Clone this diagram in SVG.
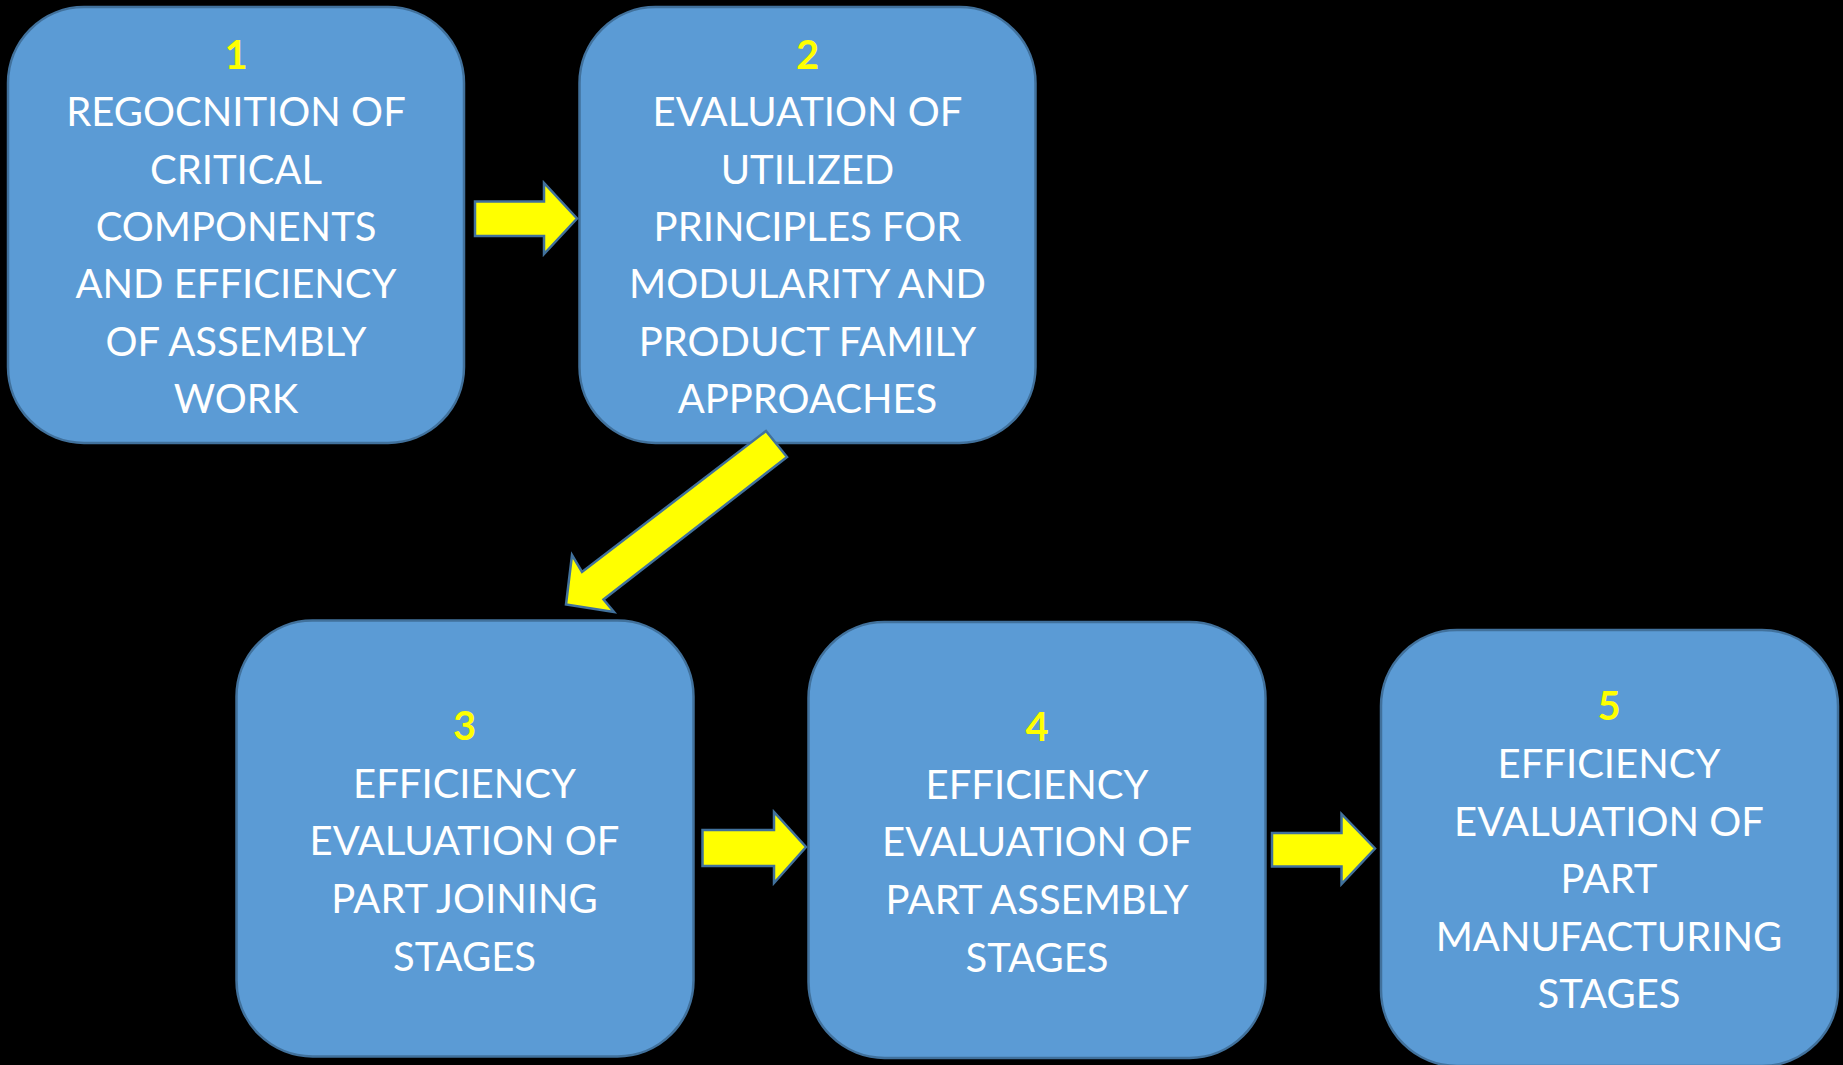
<svg xmlns="http://www.w3.org/2000/svg" width="1843" height="1065" viewBox="0 0 1843 1065">
<style>
.box{fill:#5B9BD5;stroke:#41719C;stroke-width:2.5}
.t{font-family:Lato,"Liberation Sans",sans-serif;font-size:40px;fill:#FFFFFF;text-anchor:middle}
.n{font-family:Lato,"Liberation Sans",sans-serif;font-size:40px;font-weight:bold;fill:#FFFF00;text-anchor:middle}
.arr{fill:#FFFF00;stroke:#41719C;stroke-width:2.5;stroke-linejoin:miter}
</style>
<rect x="0" y="0" width="1843" height="1065" fill="#000000"/>
<g id="node1">
<rect class="box" x="8" y="7" width="456" height="436" rx="76" ry="76"/>
<text class="n" x="236" y="69">1</text>
<text class="t" x="236" y="126">REGOCNITION OF</text>
<text class="t" x="236" y="184">CRITICAL</text>
<text class="t" x="236" y="241">COMPONENTS</text>
<text class="t" x="236" y="298">AND EFFICIENCY</text>
<text class="t" x="236" y="356">OF ASSEMBLY</text>
<text class="t" x="236" y="413">WORK</text>
</g>
<g id="node2">
<rect class="box" x="579.5" y="7" width="456" height="436" rx="76" ry="76"/>
<text class="n" x="807.5" y="69">2</text>
<text class="t" x="807.5" y="126">EVALUATION OF</text>
<text class="t" x="807.5" y="184">UTILIZED</text>
<text class="t" x="807.5" y="241">PRINCIPLES FOR</text>
<text class="t" x="807.5" y="298">MODULARITY AND</text>
<text class="t" x="807.5" y="356">PRODUCT FAMILY</text>
<text class="t" x="807.5" y="413">APPROACHES</text>
</g>
<g id="node3">
<rect class="box" x="236.5" y="620.5" width="457" height="436" rx="76" ry="76"/>
<text class="n" x="464.5" y="740">3</text>
<text class="t" x="464.5" y="798">EFFICIENCY</text>
<text class="t" x="464.5" y="855">EVALUATION OF</text>
<text class="t" x="464.5" y="913">PART JOINING</text>
<text class="t" x="464.5" y="971">STAGES</text>
</g>
<g id="node4">
<rect class="box" x="808.5" y="622" width="457" height="436" rx="76" ry="76"/>
<text class="n" x="1037" y="741">4</text>
<text class="t" x="1037" y="799">EFFICIENCY</text>
<text class="t" x="1037" y="856">EVALUATION OF</text>
<text class="t" x="1037" y="914">PART ASSEMBLY</text>
<text class="t" x="1037" y="972">STAGES</text>
</g>
<g id="node5">
<rect class="box" x="1381" y="630" width="457" height="436" rx="76" ry="76"/>
<text class="n" x="1609" y="720">5</text>
<text class="t" x="1609" y="778">EFFICIENCY</text>
<text class="t" x="1609" y="836">EVALUATION OF</text>
<text class="t" x="1609" y="893">PART</text>
<text class="t" x="1609" y="951">MANUFACTURING</text>
<text class="t" x="1609" y="1008">STAGES</text>
</g>
<g id="connectors">
<polygon class="arr" points="475,201.5 544,201.5 544,183 577,218.5 544,254 544,236 475,236"/>
<polygon class="arr" points="766,431 787,457 603.5,599.5 614,612 566,604.5 572,555 582,572"/>
<polygon class="arr" points="702.5,830 774,830 774,812 806,847 774,883 774,866 702.5,866"/>
<polygon class="arr" points="1272,833 1341.5,833 1341.5,814 1375,848.5 1341.5,884 1341.5,866.5 1272,866.5"/>
</g>
</svg>
